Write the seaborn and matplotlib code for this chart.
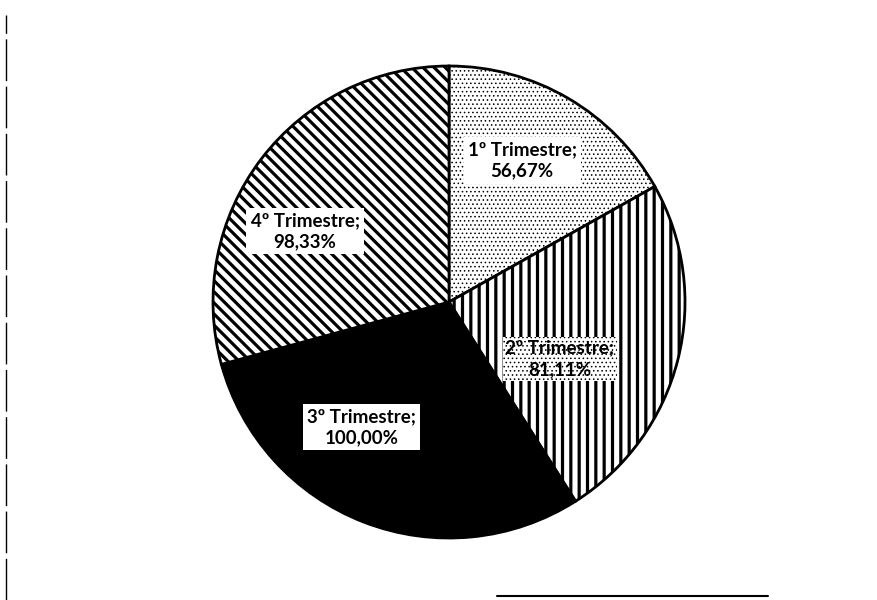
import matplotlib
matplotlib.use('Agg')
import matplotlib.pyplot as plt
import seaborn as sns
from matplotlib.lines import Line2D

# dados do grafico
trimestres = ['1º Trimestre', '2º Trimestre', '3º Trimestre', '4º Trimestre']
valores = [56.67, 81.11, 100.00, 98.33]
rotulos = ['1º Trimestre;\n56,67%', '2º Trimestre;\n81,11%', '3º Trimestre;\n100,00%', '4º Trimestre;\n98,33%']
hachuras = ['....', '||', '', '\\\\\\']
esp_hachura = [0.6, 2.3, 2.3, 2.3]
cores = ['white', 'white', 'black', 'white']
# posicao dos rotulos (fracao do raio)
pos_rotulos = [(0.31, 0.60), (0.47, -0.24), (-0.37, -0.53), (-0.61, 0.30)]

sns.set_theme(style='white')
plt.rcParams['font.family'] = ['Lato', 'DejaVu Sans']
plt.rcParams['hatch.linewidth'] = 2.3

fig = plt.figure(figsize=(8.78, 6), dpi=100)
ax = fig.add_axes([0.2426, 0.1033, 0.5376, 0.7867])

fatias, textos = ax.pie(valores, labels=rotulos, startangle=90, counterclock=False,
                        colors=cores, labeldistance=0.63,
                        wedgeprops=dict(edgecolor='black', linewidth=2),
                        textprops=dict(fontsize=13.5, fontweight='bold', color='black'))

for f, h, lw in zip(fatias, hachuras, esp_hachura):
    f.set_hatch(h)
    if hasattr(f, 'set_hatch_linewidth'):
        f.set_hatch_linewidth(lw)

for i, t in enumerate(textos):
    t.set_position(pos_rotulos[i])
    t.set_ha('center')
    t.set_va('center')
    t.set_linespacing(1.3)
    if i == 1:
        t.set_bbox(dict(facecolor='white', edgecolor='black', linewidth=0, hatch='....', pad=2))
        if hasattr(t.get_bbox_patch(), 'set_hatch_linewidth'):
            t.get_bbox_patch().set_hatch_linewidth(0.6)
    else:
        t.set_bbox(dict(facecolor='white', edgecolor='none', pad=3))

ax.set_xlim(-1, 1)
ax.set_ylim(-1, 1)
ax.set_aspect('equal')

# bordas do quadro (restos da digitalizacao)
fig.add_artist(Line2D([0.007, 0.007], [0.0, 0.975], transform=fig.transFigure,
                      color='black', linewidth=1.0, linestyle=(0, (30, 4))))
fig.add_artist(Line2D([0.566, 0.875], [0.006, 0.006], transform=fig.transFigure,
                      color='black', linewidth=1.5))

fig.savefig('out.png', dpi=100, facecolor='white')
